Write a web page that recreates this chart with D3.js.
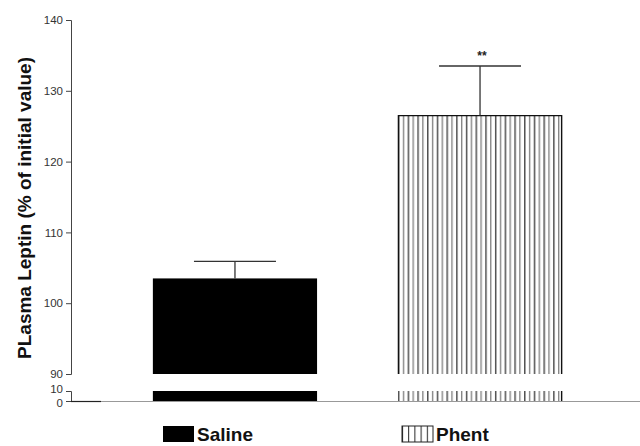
<!DOCTYPE html>
<html><head><meta charset="utf-8">
<script src="https://cdn.jsdelivr.net/npm/d3@7"></script>
<style>body{margin:0;background:#fff}svg{display:block}</style>
</head><body>
<svg id="c" width="640" height="446"></svg>
<script>
const categories = ["Saline", "Phent"];
const means = [103.5, 126.5];
const errors = [2.4, 7.0];
const significance = ["", "**"];
const upperTicks = [90, 100, 110, 120, 130, 140];
const lowerTicks = [0, 10];
const yLabel = "PLasma Leptin (% of initial value)";

const svg = d3.select("#c");
const font = "'Liberation Sans', Arial, sans-serif";
const axisX = 71;
const yUp = d3.scaleLinear().domain([90, 140]).range([374, 20]);
const yLo = d3.scaleLinear().domain([0, 10]).range([401, 391]);
const x = d3.scaleBand().domain(categories).range([72, 643]).paddingInner(0.33).paddingOuter(0.33);

// hatch patterns
const defs = svg.append("defs");
const pat = defs.append("pattern").attr("id", "hatch").attr("patternUnits", "userSpaceOnUse")
  .attr("width", 9.7).attr("height", 10).attr("x", x("Phent"));
pat.append("rect").attr("width", 9.7).attr("height", 10).attr("fill", "#fff");
pat.append("line").attr("x1", 0.8).attr("x2", 0.8).attr("y1", 0).attr("y2", 10).attr("stroke", "#111").attr("stroke-width", 1.1);
pat.append("line").attr("x1", 5.6).attr("x2", 5.6).attr("y1", 0).attr("y2", 10).attr("stroke", "#666").attr("stroke-width", 1.1);
const pat2 = defs.append("pattern").attr("id", "hatch2").attr("patternUnits", "userSpaceOnUse")
  .attr("width", 6.2).attr("height", 10).attr("x", 402);
pat2.append("rect").attr("width", 6.2).attr("height", 10).attr("fill", "#fff");
pat2.append("line").attr("x1", 0.5).attr("x2", 0.5).attr("y1", 0).attr("y2", 10).attr("stroke", "#222").attr("stroke-width", 1);

const fills = { Saline: "#000", Phent: "url(#hatch)" };

// axes (broken)
const gUp = svg.append("g").attr("transform", `translate(${axisX},0)`)
  .call(d3.axisLeft(yUp).tickValues(upperTicks).tickSize(5).tickPadding(3));
const gLo = svg.append("g").attr("transform", `translate(${axisX},0)`)
  .call(d3.axisLeft(yLo).tickValues(lowerTicks).tickSize(5).tickPadding(3));
[gUp, gLo].forEach(g => {
  g.selectAll("path").attr("stroke", "#444").attr("stroke-width", 1);
  g.selectAll("line").attr("stroke", "#444");
  g.selectAll("text").attr("font-family", font).attr("font-size", 11.5).attr("fill", "#333");
});
gLo.selectAll("text").attr("dy", d => d === 10 ? "0.1em" : "0.45em");

// x baseline
svg.append("line").attr("x1", axisX).attr("x2", 640).attr("y1", yLo(0) + 0.5).attr("y2", yLo(0) + 0.5)
  .attr("stroke", "#999").attr("stroke-width", 1.2);
svg.append("line").attr("x1", axisX).attr("x2", 101).attr("y1", yLo(0) + 0.5).attr("y2", yLo(0) + 0.5)
  .attr("stroke", "#222").attr("stroke-width", 1.2);

// bars: upper and lower portions
const bars = svg.append("g");
categories.forEach((c, i) => {
  const bx = x(c), bw = x.bandwidth();
  const top = yUp(means[i]);
  bars.append("rect").attr("x", bx).attr("y", top).attr("width", bw)
    .attr("height", yUp(90) - top).attr("fill", fills[c]);
  bars.append("rect").attr("x", bx).attr("y", yLo(10)).attr("width", bw)
    .attr("height", yLo(0) - yLo(10)).attr("fill", fills[c]);
  if (c === "Phent") {
    bars.append("path")
      .attr("d", `M${bx + 0.5},${yUp(90)}V${top}H${bx + bw - 0.5}V${yUp(90)}`)
      .attr("fill", "none").attr("stroke", "#111").attr("stroke-width", 1.4);
    bars.append("line").attr("x1", bx + bw - 0.5).attr("x2", bx + bw - 0.5).attr("y1", yLo(10)).attr("y2", yLo(0))
      .attr("stroke", "#111").attr("stroke-width", 1.4);
  }
  // error bar
  const cx = bx + bw / 2;
  const et = yUp(means[i] + errors[i]);
  bars.append("line").attr("x1", cx).attr("x2", cx).attr("y1", top).attr("y2", et)
    .attr("stroke", "#333").attr("stroke-width", 1.3);
  bars.append("line").attr("x1", cx - 41).attr("x2", cx + 41).attr("y1", et).attr("y2", et)
    .attr("stroke", "#333").attr("stroke-width", 1.3);
  if (significance[i]) {
    bars.append("text").attr("x", cx + 2).attr("y", et - 6)
      .attr("text-anchor", "middle").attr("font-family", font).attr("font-weight", "bold")
      .attr("font-size", 12).attr("fill", "#222").text(significance[i]);
  }
});

// y label
svg.append("text").attr("transform", "translate(31,208) rotate(-90)")
  .attr("text-anchor", "middle").attr("font-family", font).attr("font-weight", "bold")
  .attr("font-size", 19).attr("fill", "#111").text(yLabel);

// legend
const legendX = [163, 402];
const legendFill = ["#000", "url(#hatch2)"];
categories.forEach((c, i) => {
  svg.append("rect").attr("x", legendX[i]).attr("y", 426).attr("width", 31).attr("height", 16)
    .attr("fill", legendFill[i]).attr("stroke", i ? "#222" : "none");
  svg.append("text").attr("x", legendX[i] + 34).attr("y", 441).attr("font-family", font).attr("font-weight", "bold")
    .attr("font-size", 19).attr("fill", "#111").text(c);
});
</script>
</body></html>
